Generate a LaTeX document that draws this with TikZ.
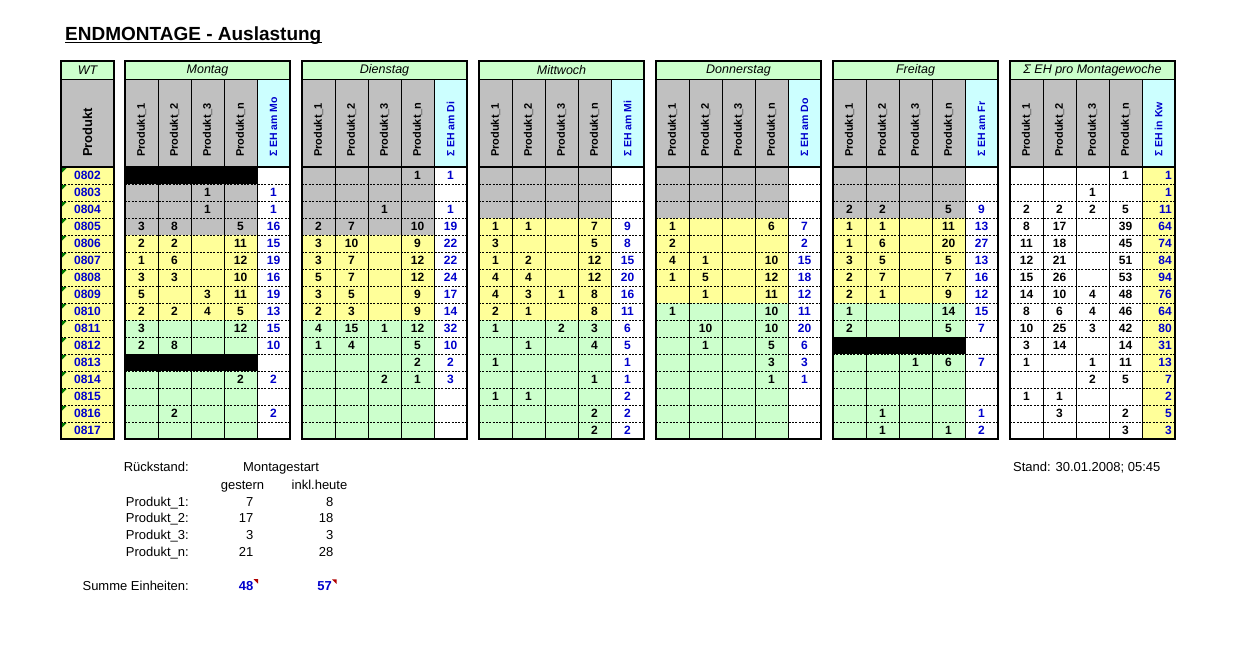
\documentclass[tikz,border=0pt]{standalone}
\usepackage{fontspec}
\setmainfont{Liberation Sans}
\definecolor{hgreen}{HTML}{CCFFCC}
\definecolor{cgrey}{HTML}{C0C0C0}
\definecolor{ccyan}{HTML}{CCFFFF}
\definecolor{cyel}{HTML}{FFFF99}
\definecolor{cgreen}{HTML}{CCFFCC}
\definecolor{tblue}{HTML}{0000CC}
\definecolor{trigreen}{HTML}{007A00}
\definecolor{trired}{HTML}{B00000}
% cell fill: block, col from, col to, row from, row to, colour
\newcommand\cf[6]{\fill[#6] ({125+177*#1+33*#2},{167+17*#4}) rectangle ({125+177*#1+33*(#3+1)},{167+17*(#5+1)});}
% data row of a day block
\newcommand\dr[7]{%
 \node[num] (v#1-#2-1) at ({141.5+177*#1},{175.5+17*#2}) {#3};
 \node[num] (v#1-#2-2) at ({174.5+177*#1},{175.5+17*#2}) {#4};
 \node[num] (v#1-#2-3) at ({207.5+177*#1},{175.5+17*#2}) {#5};
 \node[num] (v#1-#2-4) at ({240.5+177*#1},{175.5+17*#2}) {#6};
 \node[snum] (v#1-#2-5) at ({273.5+177*#1},{175.5+17*#2}) {#7};}
% data row of the weekly sum block
\newcommand\sr[6]{%
 \node[num] (w#1-1) at (1026.5,{175.5+17*#1}) {#2};
 \node[num] (w#1-2) at (1059.5,{175.5+17*#1}) {#3};
 \node[num] (w#1-3) at (1092.5,{175.5+17*#1}) {#4};
 \node[num] (w#1-4) at (1125.5,{175.5+17*#1}) {#5};
 \node[snum,anchor=east] (w#1-5) at (1172,{175.5+17*#1}) {#6};}
\begin{document}
\begin{tikzpicture}[x=1pt,y=-1pt,
 num/.style={font=\fontsize{12}{14}\selectfont\bfseries, inner sep=0pt},
 snum/.style={num, text=tblue},
 wtnum/.style={num, text=tblue},
 dayhd/.style={font=\fontsize{12.5}{14}\selectfont\itshape, inner sep=0pt},
 rothd/.style={rotate=90, anchor=west, inner sep=0pt, font=\fontsize{11}{13}\selectfont\bfseries},
 rotsum/.style={rotate=90, anchor=west, inner sep=0pt, text=tblue, font=\fontsize{10.5}{12}\selectfont\bfseries},
 btxt/.style={font=\fontsize{13}{15}\selectfont, inner sep=0pt},
 thickline/.style={line width=1.8pt},
 thinline/.style={line width=0.8pt},
 dotline/.style={line width=0.7pt, dash pattern=on 2pt off 1.4pt}]
\useasboundingbox (0,0) rectangle (1250,662);
\fill[white] (0,0) rectangle (1250,662);

% title
\node[anchor=base west, inner sep=0pt, font=\fontsize{19}{22}\selectfont\bfseries] (title) at (65,40) {ENDMONTAGE - Auslastung};
\draw[line width=1.4pt] ([yshift=-2.6pt]title.base west) -- ([yshift=-2.6pt]title.base east);

% data fills
\cf{0}{0}{3}{1}{3}{cgrey}
\cf{0}{0}{3}{4}{8}{cyel}
\cf{0}{0}{3}{9}{15}{cgreen}
\cf{0}{0}{3}{0}{0}{black}
\cf{0}{0}{3}{11}{11}{black}
\cf{1}{0}{3}{0}{3}{cgrey}
\cf{1}{0}{3}{4}{8}{cyel}
\cf{1}{0}{3}{9}{15}{cgreen}
\cf{2}{0}{3}{0}{2}{cgrey}
\cf{2}{0}{3}{3}{8}{cyel}
\cf{2}{0}{3}{9}{15}{cgreen}
\cf{3}{0}{3}{0}{2}{cgrey}
\cf{3}{0}{3}{3}{7}{cyel}
\cf{3}{0}{3}{8}{15}{cgreen}
\cf{4}{0}{3}{0}{2}{cgrey}
\cf{4}{0}{3}{3}{7}{cyel}
\cf{4}{0}{3}{8}{15}{cgreen}
\cf{4}{0}{3}{10}{10}{black}
\cf{5}{4}{4}{0}{15}{cyel}

% WT column
\fill[hgreen] (61,61) rectangle (114,79);
\fill[cgrey] (61,79) rectangle (114,167);
\fill[cyel] (61,167) rectangle (114,439);
\node[dayhd] (wt) at (87.5,70) {WT};
\node[rotate=90, anchor=west, inner sep=0pt, font=\fontsize{13}{15}\selectfont\bfseries] (prod) at (87.5,157) {Produkt};
\foreach \k/\lab in {0/0802,1/0803,2/0804,3/0805,4/0806,5/0807,6/0808,7/0809,8/0810,9/0811,10/0812,11/0813,12/0814,13/0815,14/0816,15/0817}{
  \fill[trigreen] (62,{168+17*\k}) -- (66.5,{168+17*\k}) -- (62,{172.5+17*\k}) -- cycle;
  \node[wtnum] (wt\k) at (87.5,{175.5+17*\k}) {\lab};
}
\foreach \k in {1,...,15} \draw[dotline] (61,{167+17*\k}) -- (114,{167+17*\k});
\draw[thinline] (61,79) -- (114,79);
\draw[thickline] (61,167) -- (114,167);
\draw[thickline] (61,61) rectangle (114,439);

% blocks
\foreach \b/\hd/\sm in {0/Montag/Σ EH am Mo,1/Dienstag/Σ EH am Di,2/Mittwoch/Σ EH am Mi,3/Donnerstag/Σ EH am Do,4/Freitag/Σ EH am Fr,5/Σ EH pro Montagewoche/Σ EH in Kw}{
  \pgfmathsetmacro\bX{125+177*\b}
  \fill[hgreen] (\bX,61) rectangle (\bX+165,79);
  \fill[cgrey] (\bX,79) rectangle (\bX+132,167);
  \fill[ccyan] (\bX+132,79) rectangle (\bX+165,167);
  \node[dayhd] (hd\b) at (\bX+82.5,70) {\hd};
  \foreach \c/\p in {0/1,1/2,2/3,3/n} \node[rothd] (ph\b-\c) at (\bX+16.5+33*\c,157) {Produkt\_\p};
  \node[rotsum] (sh\b) at (\bX+148.5,157) {\sm};
  \foreach \k in {1,...,15} \draw[dotline] (\bX,{167+17*\k}) -- (\bX+165,{167+17*\k});
  \foreach \c in {1,...,4} \draw[thinline] (\bX+33*\c,79) -- (\bX+33*\c,439);
  \draw[thinline] (\bX,79) -- (\bX+165,79);
  \draw[thickline] (\bX,167) -- (\bX+165,167);
  \draw[thickline] (\bX,61) rectangle (\bX+165,439);
}

% Montag
\dr{0}{1}{}{}{1}{}{1}
\dr{0}{2}{}{}{1}{}{1}
\dr{0}{3}{3}{8}{}{5}{16}
\dr{0}{4}{2}{2}{}{11}{15}
\dr{0}{5}{1}{6}{}{12}{19}
\dr{0}{6}{3}{3}{}{10}{16}
\dr{0}{7}{5}{}{3}{11}{19}
\dr{0}{8}{2}{2}{4}{5}{13}
\dr{0}{9}{3}{}{}{12}{15}
\dr{0}{10}{2}{8}{}{}{10}
\dr{0}{12}{}{}{}{2}{2}
\dr{0}{14}{}{2}{}{}{2}
% Dienstag
\dr{1}{0}{}{}{}{1}{1}
\dr{1}{2}{}{}{1}{}{1}
\dr{1}{3}{2}{7}{}{10}{19}
\dr{1}{4}{3}{10}{}{9}{22}
\dr{1}{5}{3}{7}{}{12}{22}
\dr{1}{6}{5}{7}{}{12}{24}
\dr{1}{7}{3}{5}{}{9}{17}
\dr{1}{8}{2}{3}{}{9}{14}
\dr{1}{9}{4}{15}{1}{12}{32}
\dr{1}{10}{1}{4}{}{5}{10}
\dr{1}{11}{}{}{}{2}{2}
\dr{1}{12}{}{}{2}{1}{3}
% Mittwoch
\dr{2}{3}{1}{1}{}{7}{9}
\dr{2}{4}{3}{}{}{5}{8}
\dr{2}{5}{1}{2}{}{12}{15}
\dr{2}{6}{4}{4}{}{12}{20}
\dr{2}{7}{4}{3}{1}{8}{16}
\dr{2}{8}{2}{1}{}{8}{11}
\dr{2}{9}{1}{}{2}{3}{6}
\dr{2}{10}{}{1}{}{4}{5}
\dr{2}{11}{1}{}{}{}{1}
\dr{2}{12}{}{}{}{1}{1}
\dr{2}{13}{1}{1}{}{}{2}
\dr{2}{14}{}{}{}{2}{2}
\dr{2}{15}{}{}{}{2}{2}
% Donnerstag
\dr{3}{3}{1}{}{}{6}{7}
\dr{3}{4}{2}{}{}{}{2}
\dr{3}{5}{4}{1}{}{10}{15}
\dr{3}{6}{1}{5}{}{12}{18}
\dr{3}{7}{}{1}{}{11}{12}
\dr{3}{8}{1}{}{}{10}{11}
\dr{3}{9}{}{10}{}{10}{20}
\dr{3}{10}{}{1}{}{5}{6}
\dr{3}{11}{}{}{}{3}{3}
\dr{3}{12}{}{}{}{1}{1}
% Freitag
\dr{4}{2}{2}{2}{}{5}{9}
\dr{4}{3}{1}{1}{}{11}{13}
\dr{4}{4}{1}{6}{}{20}{27}
\dr{4}{5}{3}{5}{}{5}{13}
\dr{4}{6}{2}{7}{}{7}{16}
\dr{4}{7}{2}{1}{}{9}{12}
\dr{4}{8}{1}{}{}{14}{15}
\dr{4}{9}{2}{}{}{5}{7}
\dr{4}{11}{}{}{1}{6}{7}
\dr{4}{14}{}{1}{}{}{1}
\dr{4}{15}{}{1}{}{1}{2}
% weekly sums
\sr{0}{}{}{}{1}{1}
\sr{1}{}{}{1}{}{1}
\sr{2}{2}{2}{2}{5}{11}
\sr{3}{8}{17}{}{39}{64}
\sr{4}{11}{18}{}{45}{74}
\sr{5}{12}{21}{}{51}{84}
\sr{6}{15}{26}{}{53}{94}
\sr{7}{14}{10}{4}{48}{76}
\sr{8}{8}{6}{4}{46}{64}
\sr{9}{10}{25}{3}{42}{80}
\sr{10}{3}{14}{}{14}{31}
\sr{11}{1}{}{1}{11}{13}
\sr{12}{}{}{2}{5}{7}
\sr{13}{1}{1}{}{}{2}
\sr{14}{}{3}{}{2}{5}
\sr{15}{}{}{}{3}{3}

% bottom summary
\node[btxt, anchor=base east] (rs) at (189,471.5) {Rückstand:};
\node[btxt, anchor=base] (ms) at (281,471.5) {Montagestart};
\node[btxt, anchor=base] (ge) at (242.5,489) {gestern};
\node[btxt, anchor=base] (ih) at (319.5,489) {inkl.heute};
\foreach \i/\p/\g/\h in {0/1/7/8,1/2/17/18,2/3/3/3,3/n/21/28}{
  \node[btxt, anchor=base east] (pl\i) at (189,{506+16.67*\i}) {Produkt\_\p:};
  \node[btxt, anchor=base east] (pg\i) at (253.5,{506+16.67*\i}) {\g};
  \node[btxt, anchor=base east] (ph\i) at (333.5,{506+16.67*\i}) {\h};
}
\node[btxt, anchor=base east] (se) at (189,590) {Summe Einheiten:};
\node[btxt, anchor=base east, font=\fontsize{13}{15}\selectfont\bfseries, text=tblue] (s48) at (253.5,590) {48};
\node[btxt, anchor=base east, font=\fontsize{13}{15}\selectfont\bfseries, text=tblue] (s57) at (332,590) {57};
\fill[trired] ([xshift=0pt,yshift=1.5pt]s48.north east) -- ++(4.5pt,0) -- ++(0,-4.5pt) -- cycle;
\fill[trired] ([xshift=0pt,yshift=1.5pt]s57.north east) -- ++(4.5pt,0) -- ++(0,-4.5pt) -- cycle;
\node[btxt, anchor=base west] (stand) at (1013,471.5) {Stand: 30.01.2008; 05:45};
\end{tikzpicture}
\end{document}
